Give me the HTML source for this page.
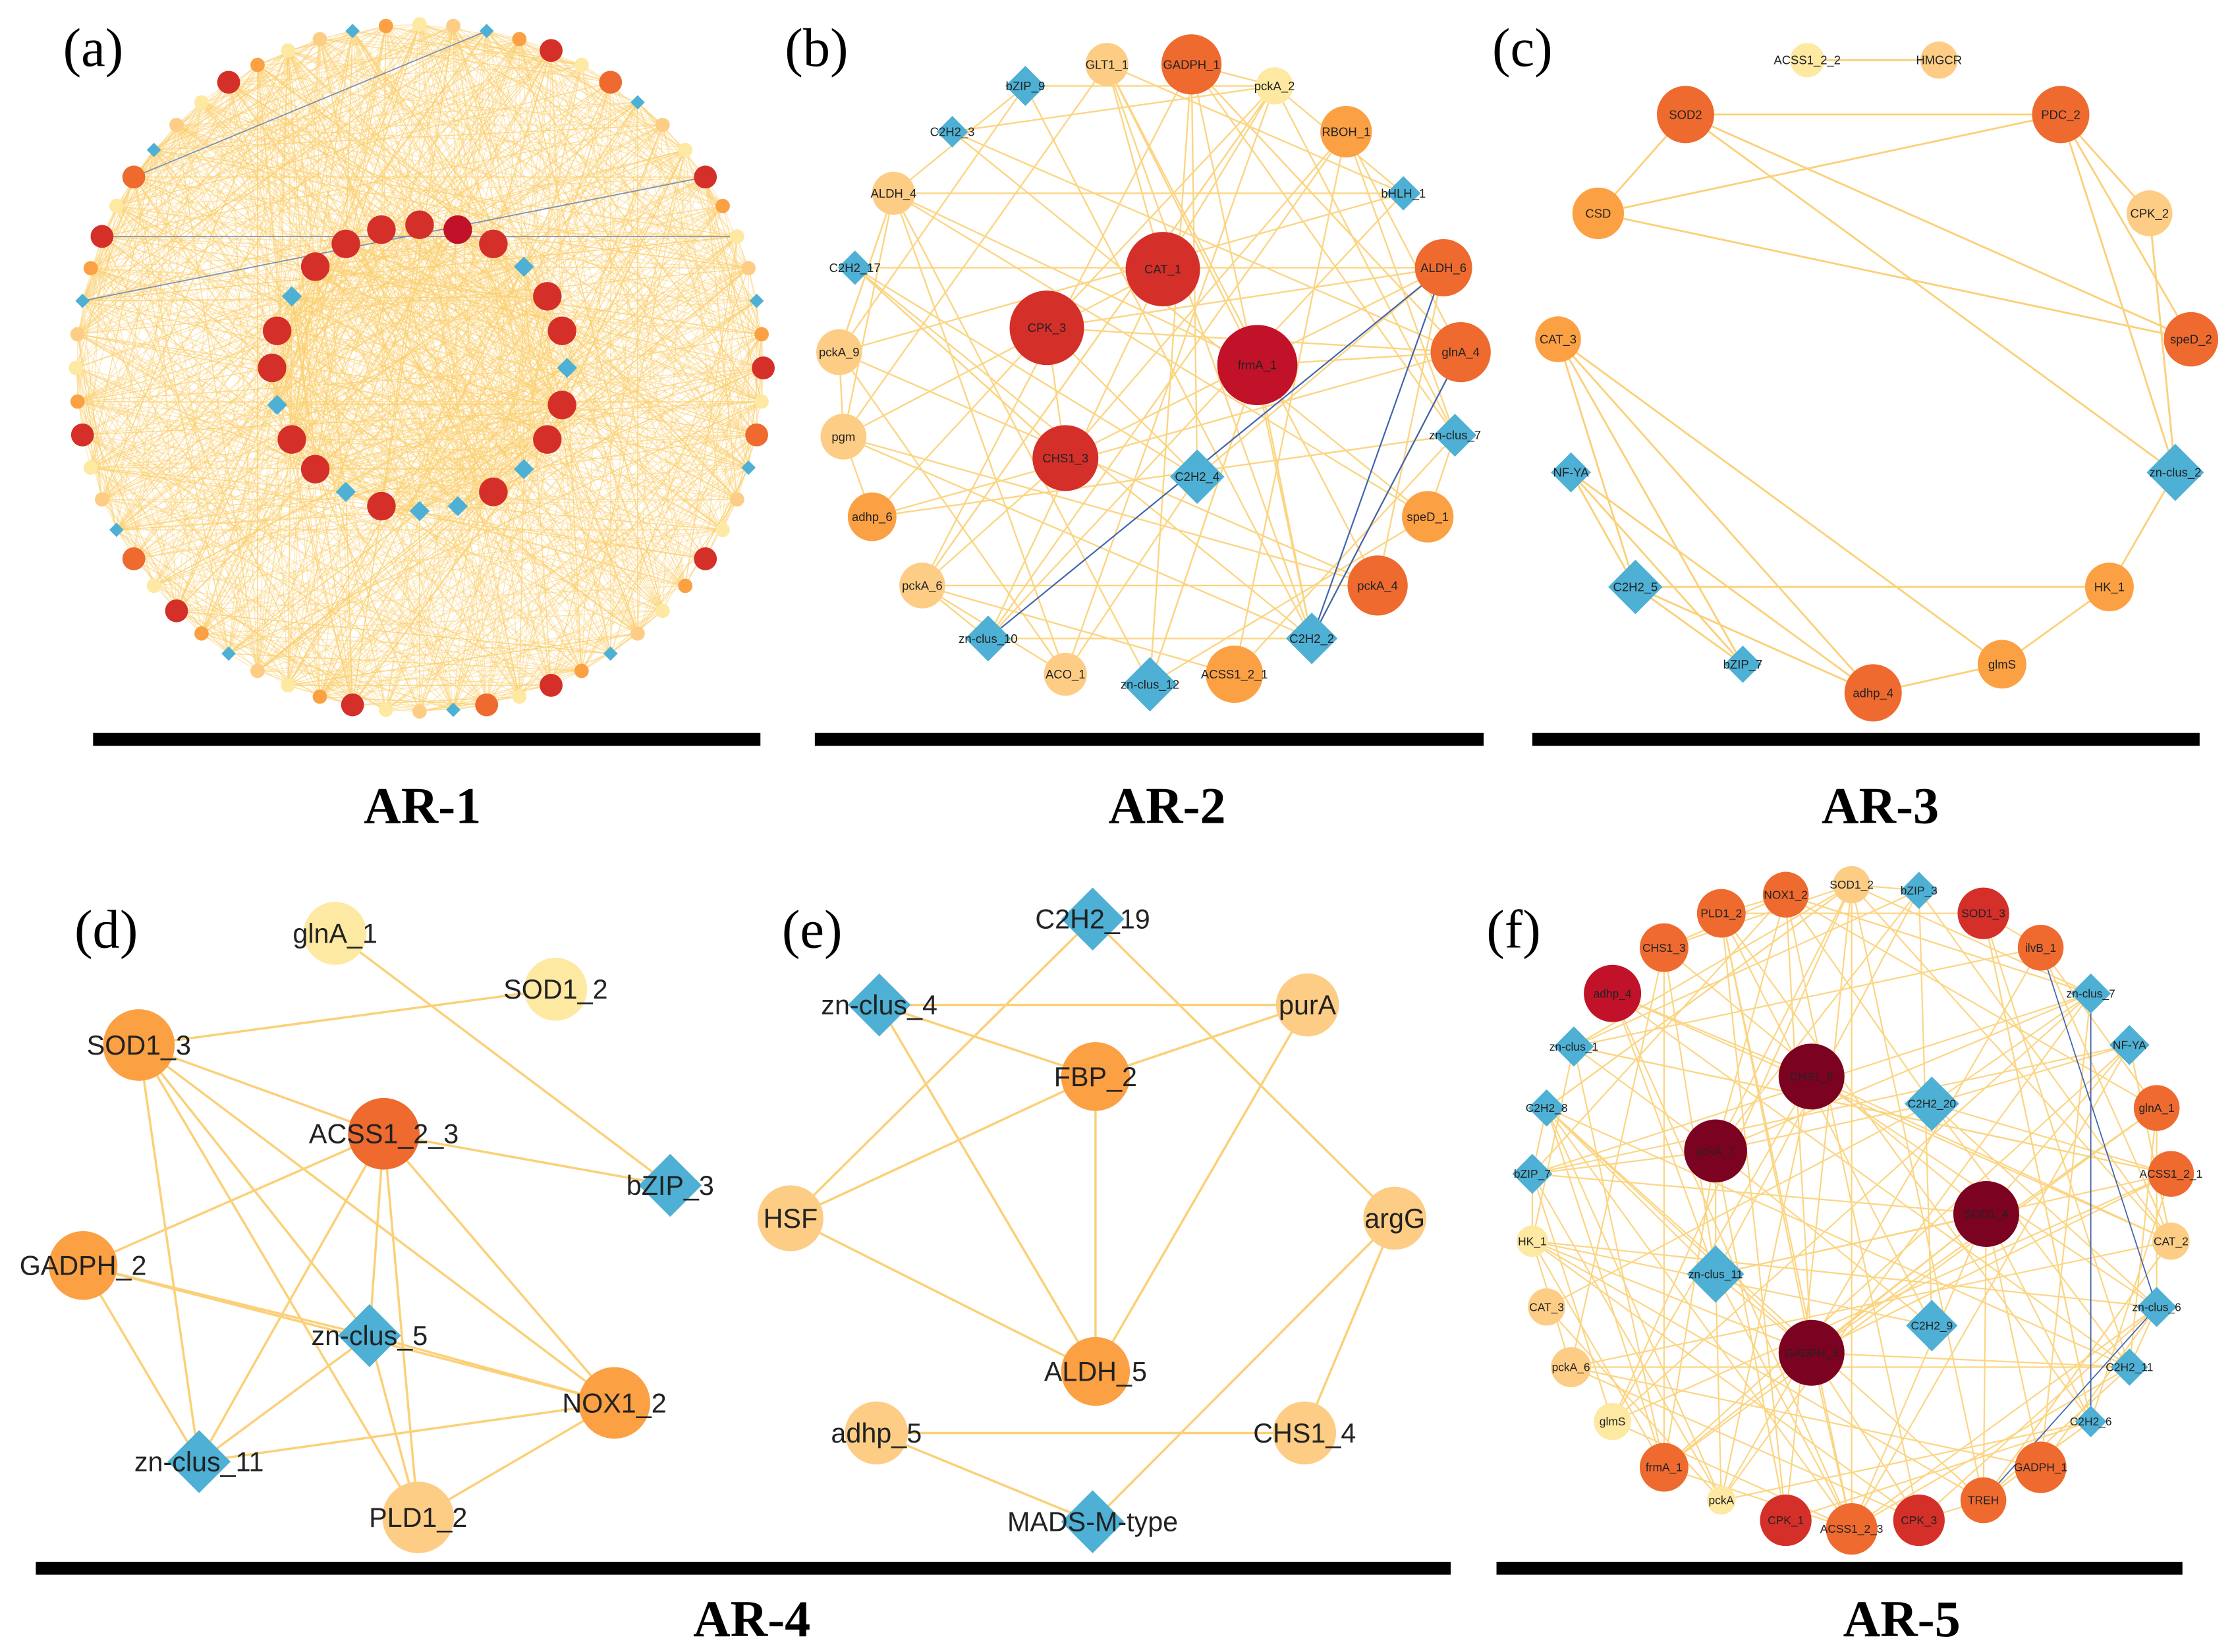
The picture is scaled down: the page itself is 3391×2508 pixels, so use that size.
<!DOCTYPE html>
<html><head><meta charset="utf-8">
<style>
html,body{margin:0;padding:0;background:#fff;}
svg{display:block;}
</style></head>
<body>
<svg id="s" width="3391" height="2508" viewBox="0 0 1560 1154" preserveAspectRatio="none" xmlns="http://www.w3.org/2000/svg">
<rect width="1560" height="1154" fill="#fff"/>
<g id="edges"></g>
<g id="nodes" font-family="'Liberation Sans', sans-serif"></g>
<g style="font-family:'Liberation Serif', serif" fill="#000">
<text x="44" y="46" font-size="38">(a)</text>
<text x="548" y="46" font-size="38">(b)</text>
<text x="1042" y="46" font-size="38">(c)</text>
<text x="52" y="662" font-size="38">(d)</text>
<text x="546" y="662" font-size="38">(e)</text>
<text x="1038" y="662" font-size="38">(f)</text>
<g font-weight="bold" font-size="36" text-anchor="middle">
<text x="295" y="575">AR-1</text>
<text x="815" y="575">AR-2</text>
<text x="1313" y="575">AR-3</text>
<text x="525" y="1143">AR-4</text>
<text x="1328" y="1143">AR-5</text>
</g>
</g>
<g fill="#000">
<rect x="65" y="512" width="466" height="9"/>
<rect x="569" y="512" width="467" height="9"/>
<rect x="1070" y="512" width="466" height="9"/>
<rect x="25" y="1091" width="988" height="9"/>
<rect x="1045" y="1091" width="479" height="9"/>
</g>
</svg>
<script>
var NS="http://www.w3.org/2000/svg";
var E=document.getElementById('edges'),N=document.getElementById('nodes');
var C={ly:'#fde9a2',lo:'#fdcd85',o:'#fba043',do:'#ee6a2f',r:'#d52f2a',dr:'#c1122a',xr:'#7c0222',b:'#4db0d4'};
var seed=7;function rnd(){seed=(seed*16807)%2147483647;return seed/2147483647;}
function line(a,b,col,w,op){var l=document.createElementNS(NS,'line');l.setAttribute('x1',a[0]);l.setAttribute('y1',a[1]);l.setAttribute('x2',b[0]);l.setAttribute('y2',b[1]);l.setAttribute('stroke',col||'#fbd583');l.setAttribute('stroke-width',w||1);if(op)l.setAttribute('stroke-opacity',op);E.appendChild(l);}
function node(n,fs){var x=n[1],y=n[2],c=n[3],r=n[4];var el;
 if(c=='b'){el=document.createElementNS(NS,'polygon');el.setAttribute('points',x+','+(y-r)+' '+(x+r)+','+y+' '+x+','+(y+r)+' '+(x-r)+','+y);}
 else{el=document.createElementNS(NS,'circle');el.setAttribute('cx',x);el.setAttribute('cy',y);el.setAttribute('r',r);}
 el.setAttribute('fill',C[c]);N.appendChild(el);
 if(n[0]){var t=document.createElementNS(NS,'text');t.setAttribute('x',x);t.setAttribute('y',y+fs*0.35);t.setAttribute('text-anchor','middle');t.setAttribute('font-size',fs);t.setAttribute('fill','#222');t.textContent=n[0];N.appendChild(t);}}
function map(arr){var m={};arr.forEach(function(n){m[n[0]]=[n[1],n[2]];});return m;}

// ---- panel a ----
var A=[];var cx=293,cy=257;
var oc=['ly','lo','b','o','r','ly','do','b','lo','ly','r','o'];
for(var i=0;i<64;i++){var t=i/64*2*Math.PI;var c=oc[i%12];A.push(['',cx+240*Math.sin(t),cy-240*Math.cos(t),c,c=='b'?5:(c=='r'||c=='do'?8:5)]);}
var ic=['r','dr','r','b','r','r','b','r','r','b','r','b','b','r','b','r','r','b','r','r','b','r','r','r'];
for(var i=0;i<24;i++){var t=i/24*2*Math.PI;A.push(['',cx+103*Math.sin(t),cy-100*Math.cos(t),ic[i],ic[i]=='b'?7:10]);}
for(var k=0;k<1500;k++){var a=A[Math.floor(rnd()*A.length)],b=A[Math.floor(rnd()*A.length)];if(a!==b)line([a[1],a[2]],[b[1],b[2]],'#fbcf6e',0.6,0.5);}
line([A[2][1],A[2][2]],[A[54][1],A[54][2]],'#7d8fb0',0.8);
line([A[10][1],A[10][2]],[A[50][1],A[50][2]],'#7d8fb0',0.8);
line([A[12][1],A[12][2]],[A[52][1],A[52][2]],'#7d8fb0',0.8);
A.forEach(function(n){node(n,4);});

// ---- panel b ----
var B=[['GLT1_1',773,45,'lo',15],['GADPH_1',832,45,'do',21],['pckA_2',890,60,'ly',13],['bZIP_9',716,60,'b',14],['C2H2_3',665,92,'b',11],
['RBOH_1',940,92,'o',18],['bHLH_1',980,135,'b',12],['ALDH_4',624,135,'lo',15],['CAT_1',812,188,'r',26],['ALDH_6',1008,187,'do',20],
['C2H2_17',597,187,'b',12],['CPK_3',731,229,'r',26],['frmA_1',878,255,'dr',28],['glnA_4',1020,246,'do',21],['pckA_9',586,246,'lo',16],
['pgm',589,305,'lo',16],['zn-clus_7',1016,304,'b',15],['CHS1_3',744,320,'r',23],['C2H2_4',836,333,'b',19],['adhp_6',609,361,'o',17],
['speD_1',997,361,'o',18],['pckA_6',644,409,'lo',16],['pckA_4',962,409,'do',21],['zn-clus_10',690,446,'b',16],['C2H2_2',916,446,'b',18],
['ACO_1',744,471,'lo',15],['zn-clus_12',803,478,'b',19],['ACSS1_2_1',862,471,'o',20]];
var Bm=map(B);
for(var k=0;k<85;k++){var a=B[Math.floor(rnd()*B.length)],b=B[Math.floor(rnd()*B.length)];if(a!==b)line([a[1],a[2]],[b[1],b[2]],'#fbd583',1.1);}
line(Bm['ALDH_6'],Bm['zn-clus_10'],'#3f63b0',1);line(Bm['ALDH_6'],Bm['C2H2_2'],'#3f63b0',1);line(Bm['glnA_4'],Bm['C2H2_2'],'#3f63b0',1);
B.forEach(function(n){node(n,8.5);});

// ---- panel c ----
var Cn=[['ACSS1_2_2',1262,42,'ly',12],['HMGCR',1354,42,'lo',13],['SOD2',1177,80,'do',20],['PDC_2',1439,80,'do',20],['CSD',1116,149,'o',18],
['CPK_2',1501,149,'lo',16],['CAT_3',1088,237,'o',16],['speD_2',1530,237,'do',19],['NF-YA',1097,330,'b',14],['zn-clus_2',1519,330,'b',20],
['C2H2_5',1142,410,'b',19],['HK_1',1473,410,'o',17],['bZIP_7',1217,464,'b',13],['glmS',1398,464,'o',17],['adhp_4',1308,484,'do',20]];
var Cm=map(Cn);
[['ACSS1_2_2','HMGCR'],['SOD2','CSD'],['SOD2','PDC_2'],['SOD2','speD_2'],['SOD2','zn-clus_2'],['CSD','PDC_2'],['CSD','speD_2'],['PDC_2','CPK_2'],
['PDC_2','zn-clus_2'],['CPK_2','zn-clus_2'],['PDC_2','speD_2'],['CAT_3','adhp_4'],['CAT_3','glmS'],['CAT_3','bZIP_7'],['NF-YA','C2H2_5'],
['NF-YA','adhp_4'],['C2H2_5','HK_1'],['C2H2_5','adhp_4'],['C2H2_5','bZIP_7'],['zn-clus_2','HK_1'],['HK_1','glmS'],['glmS','adhp_4'],['NF-YA','bZIP_7'],['CAT_3','C2H2_5']]
.forEach(function(e){line(Cm[e[0]],Cm[e[1]],'#fbd078',1.3);});
Cn.forEach(function(n){node(n,8.5);});

// ---- panel d ----
var D=[['glnA_1',234,652,'ly',22],['SOD1_2',388,691,'ly',22],['SOD1_3',97,730,'o',25],['ACSS1_2_3',268,792,'do',25],['bZIP_3',468,828,'b',22],
['GADPH_2',58,884,'o',24],['zn-clus_5',258,933,'b',22],['NOX1_2',429,980,'o',25],['zn-clus_11',139,1021,'b',22],['PLD1_2',292,1060,'lo',25]];
var Dm=map(D);
[['glnA_1','bZIP_3'],['SOD1_2','SOD1_3'],['SOD1_3','ACSS1_2_3'],['SOD1_3','zn-clus_5'],['SOD1_3','PLD1_2'],['SOD1_3','NOX1_2'],['SOD1_3','zn-clus_11'],
['ACSS1_2_3','bZIP_3'],['ACSS1_2_3','GADPH_2'],['ACSS1_2_3','zn-clus_5'],['ACSS1_2_3','NOX1_2'],['ACSS1_2_3','PLD1_2'],['ACSS1_2_3','zn-clus_11'],
['GADPH_2','zn-clus_5'],['GADPH_2','NOX1_2'],['GADPH_2','zn-clus_11'],['zn-clus_5','NOX1_2'],['zn-clus_5','PLD1_2'],['zn-clus_5','zn-clus_11'],
['NOX1_2','PLD1_2'],['NOX1_2','zn-clus_11']].forEach(function(e){line(Dm[e[0]],Dm[e[1]],'#fbd078',1.6);});
D.forEach(function(n){node(n,19);});

// ---- panel e ----
var Ee=[['C2H2_19',763,642,'b',22],['zn-clus_4',614,702,'b',22],['purA',913,702,'lo',22],['FBP_2',765,752,'o',24],['HSF',552,851,'lo',23],
['argG',974,851,'lo',22],['ALDH_5',765,958,'o',24],['adhp_5',612,1001,'lo',22],['CHS1_4',911,1001,'lo',22],['MADS-M-type',763,1063,'b',22]];
var Em=map(Ee);
[['C2H2_19','HSF'],['C2H2_19','argG'],['zn-clus_4','purA'],['zn-clus_4','FBP_2'],['zn-clus_4','ALDH_5'],['HSF','FBP_2'],['HSF','ALDH_5'],
['FBP_2','ALDH_5'],['FBP_2','purA'],['purA','ALDH_5'],['argG','CHS1_4'],['argG','MADS-M-type'],['adhp_5','CHS1_4'],['adhp_5','MADS-M-type']]
.forEach(function(e){line(Em[e[0]],Em[e[1]],'#fbd078',1.6);});
Ee.forEach(function(n){node(n,19);});

// ---- panel f ----
var F=[['SOD1_2',1293,618,'lo',13],['bZIP_3',1340,622,'b',13],['NOX1_2',1247,625,'do',16],['SOD1_3',1385,638,'r',18],['PLD1_2',1202,638,'do',17],
['ilvB_1',1425,662,'do',16],['CHS1_3',1162,662,'do',17],['zn-clus_7',1460,694,'b',14],['adhp_4',1126,694,'dr',20],['NF-YA',1487,730,'b',14],
['zn-clus_1',1099,731,'b',14],['glnA_1',1506,774,'do',16],['C2H2_8',1080,774,'b',13],['ACSS1_2_1',1516,820,'do',16],['bZIP_7',1070,820,'b',14],
['CAT_2',1516,867,'lo',13],['HK_1',1070,867,'ly',11],['zn-clus_6',1506,913,'b',14],['CAT_3',1080,913,'lo',13],['C2H2_11',1487,955,'b',13],
['pckA_6',1097,955,'lo',14],['C2H2_6',1460,993,'b',11],['glmS',1126,993,'ly',13],['GADPH_1',1425,1025,'do',18],['frmA_1',1162,1025,'do',17],
['TREH',1385,1048,'do',16],['pckA',1202,1048,'ly',10],['CPK_3',1340,1062,'r',18],['CPK_1',1247,1062,'r',18],['ACSS1_2_3',1293,1068,'do',18],
['CHS1_5',1265,752,'xr',23],['C2H2_20',1349,771,'b',19],['pckA_7',1198,804,'xr',22],['SOD1_4',1387,848,'xr',23],['zn-clus_11',1198,890,'b',20],
['C2H2_9',1349,926,'b',18],['GADPH_3',1265,945,'xr',23]];
var Fm=map(F);
for(var k=0;k<150;k++){var a=F[Math.floor(rnd()*F.length)],b=F[Math.floor(rnd()*F.length)];if(a!==b)line([a[1],a[2]],[b[1],b[2]],'#fbd583',1);}
line(Fm['zn-clus_7'],Fm['C2H2_6'],'#3f63b0',0.8);line(Fm['ilvB_1'],Fm['zn-clus_6'],'#3f63b0',0.8);line(Fm['zn-clus_6'],Fm['TREH'],'#3f63b0',0.8);
F.forEach(function(n){node(n,8);});
</script>
</body></html>
